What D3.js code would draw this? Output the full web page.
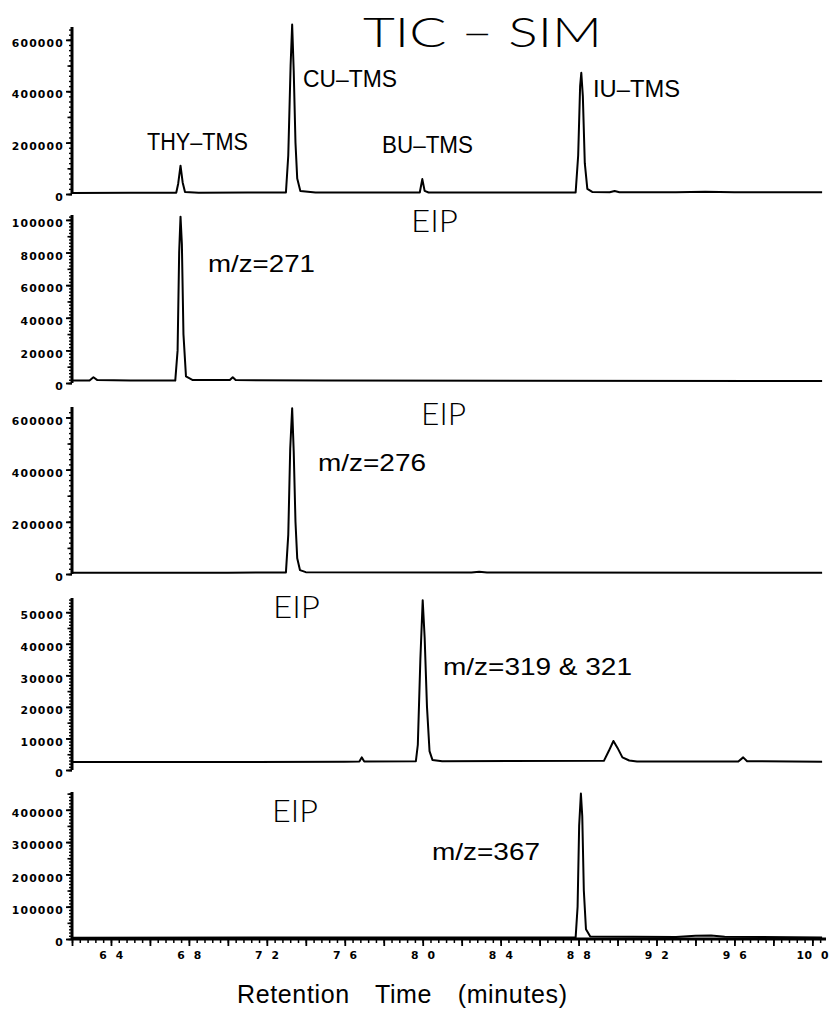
<!DOCTYPE html>
<html>
<head>
<meta charset="utf-8">
<script src="https://cdn.jsdelivr.net/npm/d3@7"></script>
<style>
  body { margin: 0; background: #fff; }
  svg { display: block; }
</style>
</head>
<body>
<main></main>
<script>
const width = 830
const height = 1011
const xLeft = 72
const xRight = 826

// [retention time (min), abundance]
const ticTrace = [
  [6.2, 4000], [6.5, 5000], [6.735, 5000], [6.745, 40000], [6.757, 110000], [6.768, 45000],
  [6.78, 8000], [6.85, 5000], [7.1, 6000], [7.298, 6000], [7.31, 150000], [7.322, 500000],
  [7.33, 660000], [7.338, 480000], [7.347, 200000], [7.356, 60000], [7.372, 12000], [7.45, 6000],
  [7.985, 6000], [7.998, 58000], [8.01, 12000], [8.03, 6000], [8.5, 6000], [8.785, 6000],
  [8.798, 150000], [8.808, 420000], [8.814, 472000], [8.822, 380000], [8.832, 120000],
  [8.845, 20000], [8.87, 8000], [8.96, 7000], [8.985, 12000], [9.01, 7000], [9.3, 7000],
  [9.45, 9000], [9.6, 7000], [10.05, 7000]
]

const eip271 = [
  [6.2, 1500], [6.29, 1500], [6.31, 3500], [6.33, 1800], [6.5, 1500], [6.73, 1500],
  [6.742, 20000], [6.75, 80000], [6.757, 102000], [6.764, 85000], [6.772, 30000],
  [6.785, 4000], [6.82, 1800], [7.01, 1800], [7.025, 3500], [7.04, 1800], [7.5, 1500],
  [10.05, 1200]
]

const eip276 = [
  [6.2, 5000], [7.0, 5000], [7.298, 6000], [7.31, 150000], [7.32, 480000], [7.33, 635000],
  [7.338, 470000], [7.347, 200000], [7.356, 60000], [7.37, 15000], [7.4, 7000], [8.25, 6000],
  [8.29, 9000], [8.33, 6000], [10.05, 5000]
]

const eip319 = [
  [6.2, 2500], [7.6, 2600], [7.675, 2700], [7.687, 4000], [7.7, 2700], [7.965, 2800],
  [7.975, 8000], [7.988, 35000], [8.0, 53800], [8.01, 42000], [8.022, 20000], [8.035, 6000],
  [8.05, 3200], [8.1, 2800], [8.93, 2900], [8.955, 6000], [8.979, 9200], [9.0, 7000],
  [9.025, 4000], [9.06, 3000], [9.1, 2700], [9.62, 2700], [9.645, 4000], [9.665, 2800],
  [10.05, 2600]
]

const eip367 = [
  [6.2, 4000], [8.0, 5000], [8.785, 5000], [8.795, 100000], [8.803, 350000], [8.812, 450000],
  [8.819, 380000], [8.827, 150000], [8.838, 30000], [8.86, 8000], [9.3, 6000], [9.4, 10000],
  [9.48, 11000], [9.55, 7000], [10.05, 5000]
]

const ticTicks = [0, 200000, 400000, 600000]
const eip271Ticks = [0, 20000, 40000, 60000, 80000, 100000]
const eip276Ticks = [0, 200000, 400000, 600000]
const eip319Ticks = [0, 10000, 20000, 30000, 40000, 50000]
const eip367Ticks = [0, 100000, 200000, 300000, 400000]

const xTickLabels = [6.4, 6.8, 7.2, 7.6, 8.0, 8.4, 8.8, 9.2, 9.6, 10.0]

const peakNames = ['THY–TMS', 'CU–TMS', 'BU–TMS', 'IU–TMS']
const ionNames = ['m/z=271', 'm/z=276', 'm/z=319 & 321', 'm/z=367']

// panel layout
const panels = [
  { trace: ticTrace, ticks: ticTicks, max: 650000, top: 27, bottom: 194 },
  { trace: eip271, ticks: eip271Ticks, max: 103000, top: 215, bottom: 383 },
  { trace: eip276, ticks: eip276Ticks, max: 640000, top: 407, bottom: 574 },
  { trace: eip319, ticks: eip319Ticks, max: 54500, top: 598, bottom: 770 },
  { trace: eip367, ticks: eip367Ticks, max: 455000, top: 792, bottom: 939 }
]

const xScale = d3.scaleLinear()
  .domain([6.2, 10.07])
  .range([xLeft, xRight])

const svg = d3.select('main')
  .append('svg')
  .attr('width', width)
  .attr('height', height)

const tickFont = g => g.selectAll('text')
  .style('font-family', '"DejaVu Sans", sans-serif')
  .style('font-weight', 'bold')
  .style('font-size', '10.8px')
  .style('letter-spacing', '1.2px')
  .style('fill', '#000')

panels.forEach(p => {
  const yScale = d3.scaleLinear()
    .domain([0, p.max])
    .range([p.bottom, p.top])

  const step = p.ticks[1]

  // minor ticks
  svg.append('g')
    .attr('transform', `translate(${xLeft}, 0)`)
    .call(d3.axisLeft(yScale).tickValues(d3.range(0, p.max, step / 10)).tickSize(3).tickSizeOuter(0).tickFormat(''))
    .call(g => g.select('.domain').remove())
    .call(g => g.selectAll('line').attr('stroke-width', 1.4))

  svg.append('g')
    .attr('transform', `translate(${xLeft}, 0)`)
    .call(d3.axisLeft(yScale).tickValues(d3.range(0, p.max, step / 2)).tickSize(4.5).tickSizeOuter(0).tickFormat(''))
    .call(g => g.select('.domain').remove())
    .call(g => g.selectAll('line').attr('stroke-width', 1.6))

  // labelled y-axis
  svg.append('g')
    .attr('transform', `translate(${xLeft}, 0)`)
    .call(d3.axisLeft(yScale).tickValues(p.ticks).tickSize(6).tickSizeOuter(0).tickPadding(2).tickFormat(d3.format('d')))
    .call(g => g.select('.domain').attr('stroke-width', 3).attr('d', `M0,${p.bottom}V${p.top}`))
    .call(g => g.selectAll('line').attr('stroke-width', 1.8))
    .call(tickFont)
    .call(g => g.selectAll('text').attr('dy', '0.62em'))

  svg.append('path')
    .datum(p.trace)
    .attr('fill', 'none')
    .attr('stroke', '#000')
    .attr('stroke-width', 2)
    .attr('stroke-linejoin', 'round')
    .attr('d', d3.line().x(d => xScale(d[0])).y(d => yScale(d[1])))
})

// x-axis
const xAxisY = panels[4].bottom

svg.append('g')
  .attr('transform', `translate(0, ${xAxisY})`)
  .call(d3.axisBottom(xScale).tickValues(d3.range(155, 252).map(i => +(i * 0.04).toFixed(2))).tickSize(4).tickSizeOuter(0).tickFormat(''))
  .call(g => g.select('.domain').remove())
  .call(g => g.selectAll('line').attr('stroke-width', 1.5))

svg.append('g')
  .attr('transform', `translate(0, ${xAxisY})`)
  .call(d3.axisBottom(xScale).tickValues(d3.range(31, 51).map(i => i / 5)).tickSize(7).tickSizeOuter(0).tickFormat(''))
  .call(g => g.select('.domain').attr('stroke-width', 3).attr('d', `M${xLeft},0H${xRight}`))
  .call(g => g.selectAll('line').attr('stroke-width', 1.8))

svg.append('g')
  .attr('transform', `translate(0, ${xAxisY})`)
  .call(d3.axisBottom(xScale).tickValues(xTickLabels).tickSize(0).tickPadding(12).tickFormat(d => d.toFixed(1).replace('.', '  ')))
  .call(g => g.select('.domain').remove())
  .call(tickFont)
  .call(g => g.selectAll('text').style('letter-spacing', '0.5px').style('white-space', 'pre'))

// annotations
const annotate = (txt, x, y, len, size, family, weight) => svg.append('text')
  .text(txt)
  .attr('x', x)
  .attr('y', y)
  .attr('textLength', len)
  .attr('lengthAdjust', 'spacingAndGlyphs')
  .style('font-family', family)
  .style('font-weight', weight)
  .style('font-size', size + 'px')
  .style('white-space', 'pre')

const thin = 'Lato, Roboto, "Open Sans", sans-serif'
const plain = '"Liberation Sans", Arial, sans-serif'

annotate('TIC – SIM', 363, 47, 239, 41, thin, 300)
annotate('EIP', 411, 232, 47, 32, thin, 300)
annotate('EIP', 421, 425, 45, 32, thin, 300)
annotate('EIP', 273, 618, 47, 32, thin, 300)
annotate('EIP', 272, 822, 46, 32, thin, 300)

annotate(peakNames[0], 147, 150, 101, 23, plain, 'normal')
annotate(peakNames[1], 303, 87, 94, 23, plain, 'normal')
annotate(peakNames[2], 382, 153, 91, 23, plain, 'normal')
annotate(peakNames[3], 593, 97, 87, 23, plain, 'normal')

annotate(ionNames[0], 208, 272, 107, 24, plain, 'normal')
annotate(ionNames[1], 318, 471, 108, 24, plain, 'normal')
annotate(ionNames[2], 443, 675, 189, 24, plain, 'normal')
annotate(ionNames[3], 432, 860, 108, 24, plain, 'normal')

// axis title
svg.append('text')
  .text('Retention Time (minutes)')
  .attr('x', 237)
  .attr('y', 1003)
  .attr('textLength', 330)
  .attr('lengthAdjust', 'spacing')
  .style('font-family', plain)
  .style('font-size', '25px')
  .style('word-spacing', '18px')
</script>
</body>
</html>
